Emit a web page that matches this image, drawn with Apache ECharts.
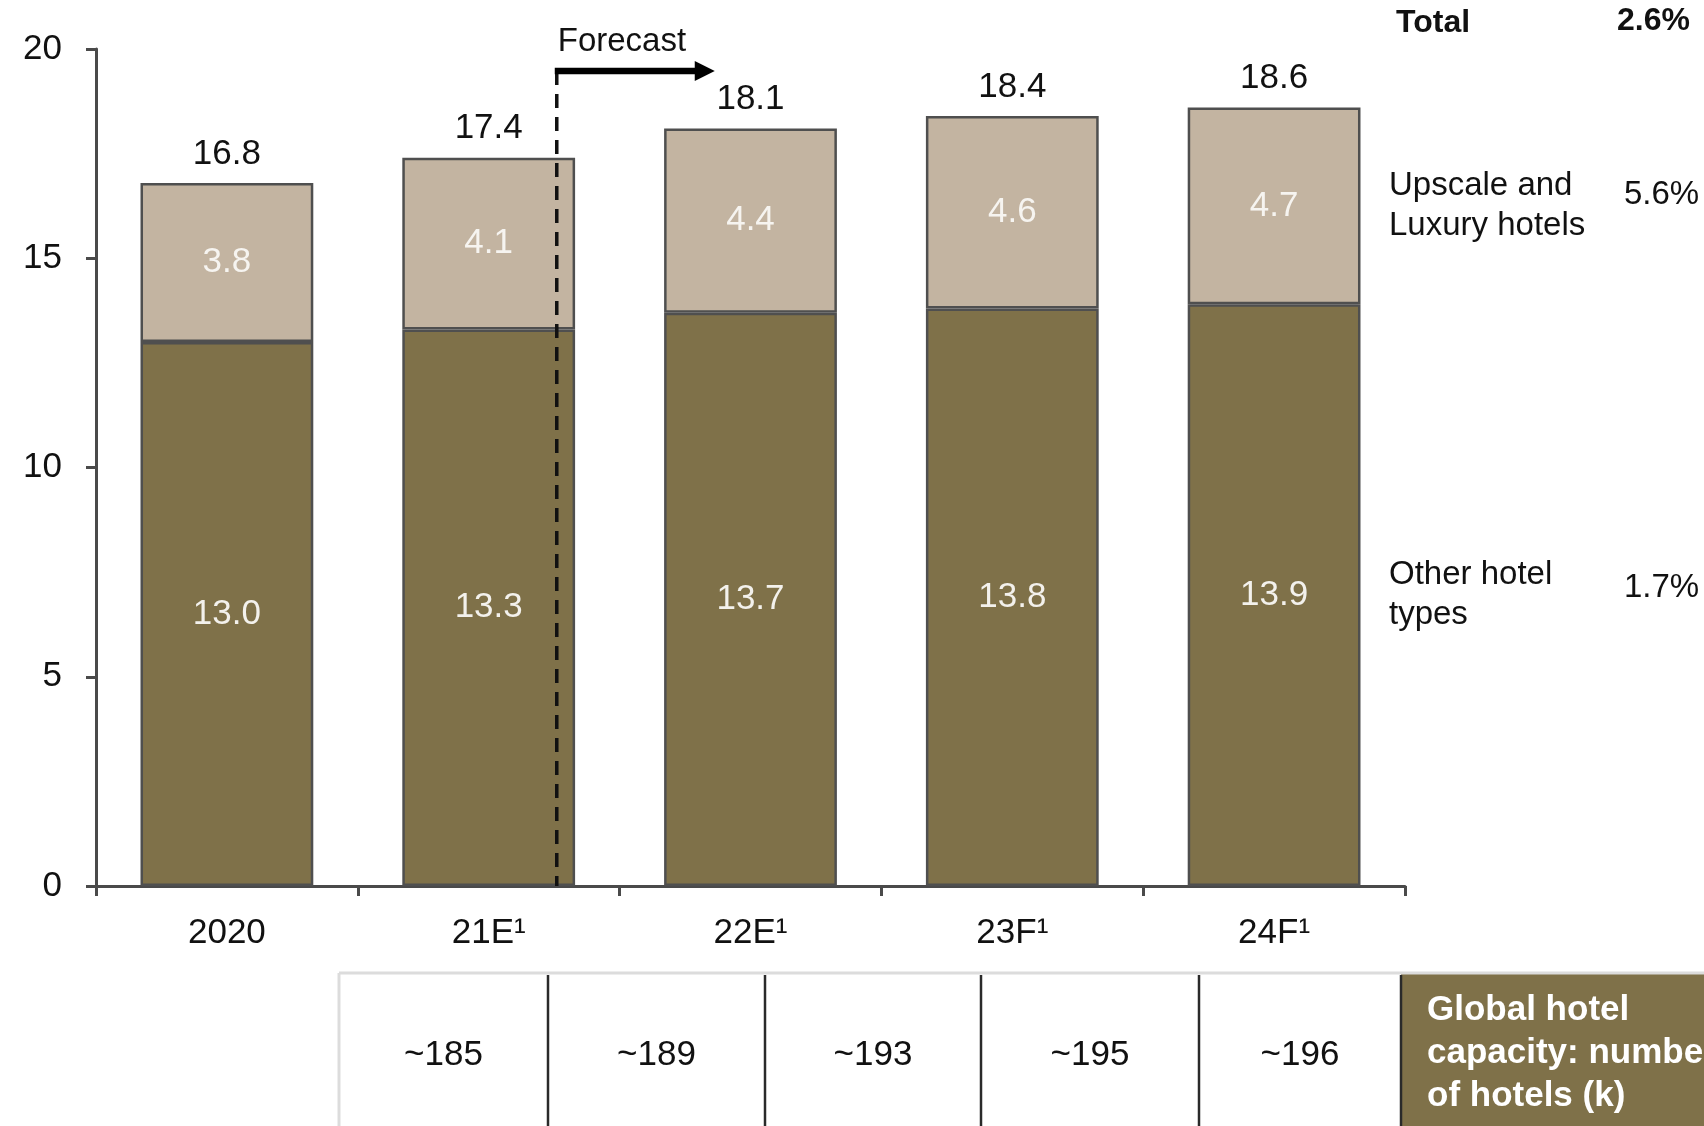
<!DOCTYPE html>
<html>
<head>
<meta charset="utf-8">
<script src="https://cdn.jsdelivr.net/npm/echarts@6/dist/echarts.min.js"></script>
<style>
  html, body { margin: 0; padding: 0; background: #ffffff; }
  #chart { width: 1704px; height: 1126px; }
</style>
</head>
<body>
<div id="chart"></div>
<script>
// Global hotel capacity, rooms (m) by segment
const categories = ['2020', '21E¹', '22E¹', '23F¹', '24F¹'];
const otherHotelTypes = [13.0, 13.3, 13.7, 13.8, 13.9];
const upscaleLuxury = [3.8, 4.1, 4.4, 4.6, 4.7];
const totals = [16.8, 17.4, 18.1, 18.4, 18.6];

// Value axis ticks
const yMin = 0, yMax = 20, yStep = 5;

// CAGR per segment
const segmentNames = ['Upscale and\nLuxury hotels', 'Other hotel\ntypes'];
const segmentGrowth = ['5.6%', '1.7%'];
const totalGrowth = '2.6%';

// Number of hotels (k)
const hotelCounts = [185, 189, 193, 195, 196];
const hotelCountsTitle = 'Global hotel\ncapacity: number\nof hotels (k)';

// Forecast divider, in category-index units
const forecastAt = 1.26;
const forecastText = 'Forecast';

const DARK = '#7f7149';
const LIGHT = '#c3b4a1';
const EDGE = '#4f4f4f';
const AXIS = '#4a4a4a';
const FONT = '"Liberation Sans", Arial, sans-serif';

const chart = echarts.init(document.getElementById('chart'), null, { renderer: 'canvas' });

const fmt1 = p => Number(p.value).toFixed(1);

chart.setOption({
  animation: false,
  backgroundColor: '#ffffff',
  textStyle: { fontFamily: FONT },
  grid: { left: 96, right: 299, top: 49, bottom: 240, containLabel: false },
  xAxis: {
    type: 'category',
    data: categories,
    axisLine: { lineStyle: { color: AXIS, width: 3 } },
    axisTick: { show: true, length: 10, lineStyle: { color: AXIS, width: 3 } },
    axisLabel: { color: '#111', fontSize: 35, fontFamily: FONT, margin: 30 }
  },
  yAxis: {
    type: 'value',
    min: yMin, max: yMax, interval: yStep,
    splitLine: { show: false },
    axisLine: { show: true, lineStyle: { color: AXIS, width: 3 } },
    axisTick: { show: true, length: 10, lineStyle: { color: AXIS, width: 3 } },
    axisLabel: { color: '#111', fontSize: 35, fontFamily: FONT, margin: 34 }
  },
  series: [
    {
      name: 'Other hotel types',
      type: 'bar',
      stack: 'rooms',
      data: otherHotelTypes,
      barWidth: '66%',
      itemStyle: { color: DARK, borderColor: EDGE, borderWidth: 2.5 },
      label: { show: true, position: 'inside', color: '#f3f1ec', fontSize: 35, fontFamily: FONT, formatter: fmt1 }
    },
    {
      name: 'Upscale and Luxury hotels',
      type: 'bar',
      stack: 'rooms',
      data: upscaleLuxury,
      barWidth: '66%',
      itemStyle: { color: LIGHT, borderColor: EDGE, borderWidth: 2.5 },
      label: { show: true, position: 'inside', color: '#f6f4f0', fontSize: 35, fontFamily: FONT, formatter: fmt1 }
    },
    {
      name: 'Total',
      type: 'line',
      data: totals,
      symbol: 'circle',
      symbolSize: 1,
      itemStyle: { color: 'rgba(0,0,0,0)' },
      lineStyle: { width: 0, opacity: 0 },
      z: 5,
      label: { show: true, position: 'top', distance: 11, color: '#111', fontSize: 35, fontFamily: FONT, formatter: fmt1 }
    }
  ]
});

// Annotations placed from axis coordinates
function px(idx, val) { return chart.convertToPixel({ gridIndex: 0 }, [idx, val]); }

const p1 = px(1, 0), p2 = px(2, 0);
const fx = p1[0] + (forecastAt - 1) * (p2[0] - p1[0]);
const axisY = p1[1];
const arrowY = 71;

const last = categories.length - 1;
const upperMid = px(last, otherHotelTypes[last] + upscaleLuxury[last] / 2)[1];
const lowerMid = px(last, otherHotelTypes[last] / 2)[1];

const labelX = 1389, pctX = 1624;

const graphics = [
  // forecast divider
  { type: 'line', z: 20, shape: { x1: fx, y1: arrowY, x2: fx, y2: axisY },
    style: { stroke: '#111', lineWidth: 3.5, lineDash: [14, 9] } },
  { type: 'line', z: 20, shape: { x1: fx - 2, y1: arrowY, x2: fx + 142, y2: arrowY },
    style: { stroke: '#000', lineWidth: 6.5 } },
  { type: 'polygon', z: 20, shape: { points: [[fx + 138, arrowY - 10], [fx + 158, arrowY], [fx + 138, arrowY + 10]] },
    style: { fill: '#000' } },
  { type: 'text', z: 20, left: fx + 1, top: 25,
    style: { text: forecastText, font: '33px ' + FONT, fill: '#111' } },

  // growth column
  { type: 'text', z: 20, left: 1396, top: 7,
    style: { text: 'Total', font: 'bold 32px ' + FONT, fill: '#111' } },
  { type: 'text', z: 20, left: 1617, top: 5,
    style: { text: totalGrowth, font: 'bold 32px ' + FONT, fill: '#111' } },
  { type: 'text', z: 20, x: labelX, y: upperMid,
    style: { text: segmentNames[0], font: '33px ' + FONT, fill: '#111', lineHeight: 40, verticalAlign: 'middle' } },
  { type: 'text', z: 20, x: pctX, y: upperMid - 11,
    style: { text: segmentGrowth[0], font: '33px ' + FONT, fill: '#111', verticalAlign: 'middle' } },
  { type: 'text', z: 20, x: labelX, y: lowerMid,
    style: { text: segmentNames[1], font: '33px ' + FONT, fill: '#111', lineHeight: 40, verticalAlign: 'middle' } },
  { type: 'text', z: 20, x: pctX, y: lowerMid - 7,
    style: { text: segmentGrowth[1], font: '33px ' + FONT, fill: '#111', verticalAlign: 'middle' } }
];

// hotel count table
const tableTop = 973, tableLeft = 339, tableRight = 1401;
const cellEdges = [339, 548, 765, 981, 1199, 1401];
graphics.push(
  { type: 'rect', z: 1, shape: { x: tableRight, y: tableTop, width: 1704 - tableRight + 5, height: 1126 - tableTop + 5 },
    style: { fill: DARK } },
  { type: 'line', z: 2, shape: { x1: tableLeft, y1: tableTop, x2: 1704, y2: tableTop },
    style: { stroke: '#dcdcdc', lineWidth: 3 } },
  { type: 'line', z: 2, shape: { x1: tableLeft, y1: tableTop, x2: tableLeft, y2: 1126 },
    style: { stroke: '#dcdcdc', lineWidth: 3 } },
  { type: 'line', z: 3, shape: { x1: tableRight, y1: tableTop + 2, x2: tableRight, y2: 1126 },
    style: { stroke: '#2a2a2a', lineWidth: 2.5 } },
  { type: 'text', z: 3, x: 1427, y: 1053,
    style: { text: hotelCountsTitle, font: 'bold 35px ' + FONT, fill: '#ffffff', lineHeight: 43, verticalAlign: 'middle' } }
);
for (let i = 1; i < cellEdges.length - 1; i++) {
  graphics.push({ type: 'line', z: 3, shape: { x1: cellEdges[i], y1: tableTop + 2, x2: cellEdges[i], y2: 1126 },
    style: { stroke: '#2a2a2a', lineWidth: 2.5 } });
}
hotelCounts.forEach((v, i) => {
  graphics.push({ type: 'text', z: 3, x: (cellEdges[i] + cellEdges[i + 1]) / 2, y: 1055,
    style: { text: '~' + v, font: '35px ' + FONT, fill: '#111', align: 'center', verticalAlign: 'middle' } });
});

chart.setOption({ graphic: graphics });
</script>
</body>
</html>
